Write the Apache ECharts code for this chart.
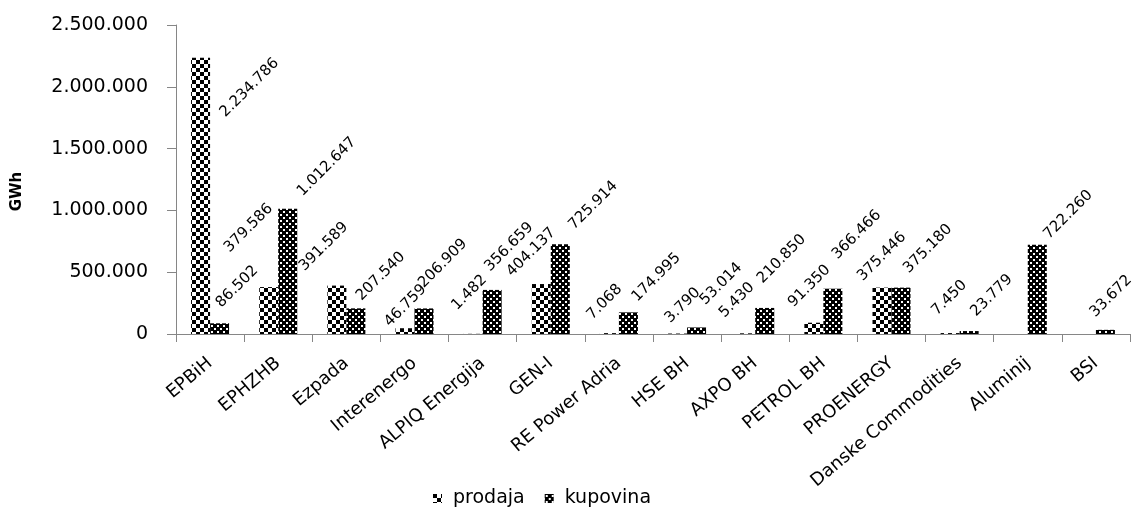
<!DOCTYPE html>
<html>
<head>
<meta charset="utf-8">
<script src="https://cdn.jsdelivr.net/npm/echarts@6/dist/echarts.min.js"></script>
<style>
html,body{margin:0;padding:0;background:#fff;}
#chart{width:1135px;height:512px;}
</style>
</head>
<body>
<div id="chart"></div>
<script>
// ---- data ----
const categories = ['EPBiH','EPHZHB','Ezpada','Interenergo','ALPIQ Energija','GEN-I','RE Power Adria','HSE BH','AXPO BH','PETROL BH','PROENERGY','Danske Commodities','Aluminij','BSI'];
const prodaja = [2234786, 379586, 391589, 46759, 1482, 404137, 7068, 3790, 5430, 91350, 375446, 7450, null, null];
const kupovina = [86502, 1012647, 207540, 206909, 356659, 725914, 174995, 53014, 210850, 366466, 375180, 23779, 722260, 33672];
const seriesNames = ['prodaja', 'kupovina'];
const yTicks = [0, 500000, 1000000, 1500000, 2000000, 2500000];

// ---- label placement tweaks (layout only, screen-space shifts) ----
const prodajaLabelShift = [[22,62],[-42,-32],[-35,-12],[-18,1],[-19,-21],[-32,-5],[-20,-11],[-10,-8],[-24,-13],[-23,-13],[-22,-4],[-16,-15],[0,0],[0,0]];
const kupovinaLabelShift = [[-1,-13],[12,-10],[3,-5],[-3,-18],[-5,-16],[11,-12],[6,-8],[6,-20],[-5,-22],[2,-27],[5,-12],[4,-12],[9,-3],[-13,-10]];

function fmt(v){ return String(v).replace(/\B(?=(\d{3})+(?!\d))/g, '.'); }

function makePattern(kind){
  const c = document.createElement('canvas');
  if (kind === 'checker') {
    c.width = 8; c.height = 8;
    const g = c.getContext('2d');
    g.fillStyle = '#fff'; g.fillRect(0,0,8,8);
    g.fillStyle = '#000'; g.fillRect(0,0,4,4); g.fillRect(4,4,4,4);
  } else {
    c.width = 6; c.height = 6;
    const g = c.getContext('2d');
    g.fillStyle = '#000'; g.fillRect(0,0,6,6);
    g.fillStyle = '#fff'; g.fillRect(1,1,2,2); g.fillRect(4,4,2,2);
  }
  return {image: c, repeat: 'repeat'};
}

const FONT = 'DejaVu Sans';
const LABEL_ROT = 45;

// label offsets are rotated with the label; convert screen shifts to local offsets
function toLocal(s){
  const a = LABEL_ROT * Math.PI / 180, c = Math.cos(a), n = Math.sin(a);
  return [s[0]*c - s[1]*n, s[0]*n + s[1]*c];
}

function buildData(values, shifts){
  return values.map((v, i) => ({
    value: v,
    label: {offset: toLocal(shifts[i])}
  }));
}

const labelBase = {
  show: true,
  position: 'top',
  rotate: LABEL_ROT,
  align: 'left',
  verticalAlign: 'middle',
  fontFamily: FONT,
  fontSize: 15,
  color: '#000',
  formatter: p => (p.value == null ? '' : fmt(p.value))
};

const chart = echarts.init(document.getElementById('chart'), null, {renderer: 'canvas'});
chart.setOption({
  animation: false,
  backgroundColor: '#fff',
  grid: {left: 176, right: 5, top: 25, bottom: 178, containLabel: false},
  legend: {
    data: seriesNames,
    left: 433, top: 489,
    itemWidth: 9, itemHeight: 9, itemGap: 20,
    padding: 0,
    icon: 'rect',
    textStyle: {fontFamily: FONT, fontSize: 19, color: '#000', padding: [0,0,0,6]}
  },
  xAxis: {
    type: 'category',
    data: categories,
    axisLine: {lineStyle: {color: '#868686', width: 1}},
    axisTick: {show: true, length: 8, alignWithLabel: false, lineStyle: {color: '#868686'}},
    axisLabel: {rotate: 40, margin: 27, interval: 0, fontFamily: FONT, fontSize: 18, color: '#000'}
  },
  yAxis: {
    type: 'value',
    min: yTicks[0], max: yTicks[yTicks.length-1], interval: yTicks[1]-yTicks[0],
    name: 'GWh',
    nameLocation: 'middle',
    nameRotate: 90,
    nameGap: 151,
    nameTextStyle: {fontFamily: FONT, fontSize: 15, fontWeight: 'bold', color: '#000', padding: [0, 24, 0, 0]},
    splitLine: {show: false},
    axisLine: {show: true, lineStyle: {color: '#868686', width: 1}},
    axisTick: {show: true, length: 9, lineStyle: {color: '#868686'}},
    axisLabel: {margin: 28, fontFamily: FONT, fontSize: 19, color: '#000', formatter: fmt}
  },
  series: [
    {
      name: seriesNames[0], type: 'bar', barWidth: 19, barGap: '0%',
      itemStyle: {color: makePattern('checker')},
      label: labelBase,
      data: buildData(prodaja, prodajaLabelShift)
    },
    {
      name: seriesNames[1], type: 'bar', barWidth: 19, barGap: '0%',
      itemStyle: {color: makePattern('dots')},
      label: labelBase,
      data: buildData(kupovina, kupovinaLabelShift)
    }
  ]
});
</script>
</body>
</html>
